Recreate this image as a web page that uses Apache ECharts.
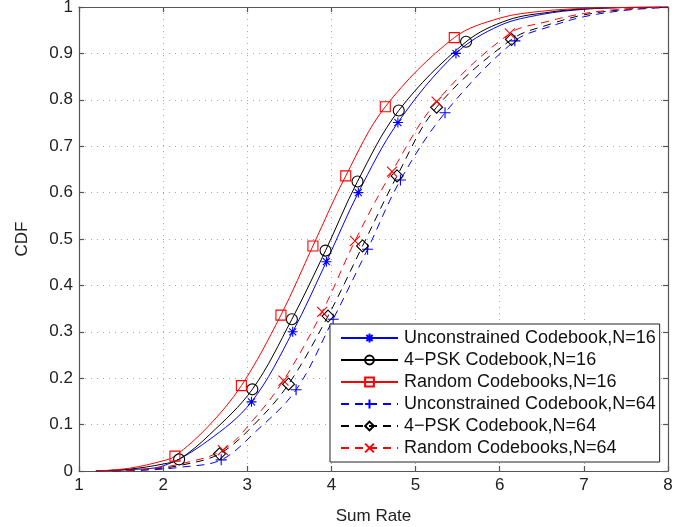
<!DOCTYPE html>
<html>
<head>
<meta charset="utf-8">
<script src="https://cdn.jsdelivr.net/npm/echarts@6/dist/echarts.min.js"></script>
<style>
html,body{margin:0;padding:0;background:#fff;}
#chart{width:686px;height:527px;}
</style>
</head>
<body>
<div id="chart"></div>
<script>
// ---- Data ----
const seriesNames = [
  'Unconstrained Codebook,N=16',
  '4\u2212PSK Codebook,N=16',
  'Random Codebooks,N=16',
  'Unconstrained Codebook,N=64',
  '4\u2212PSK Codebook,N=64',
  'Random Codebooks,N=64'
];
const xTicks = [1, 2, 3, 4, 5, 6, 7, 8];
const yTicks = [0, 0.1, 0.2, 0.3, 0.4, 0.5, 0.6, 0.7, 0.8, 0.9, 1];

const unc16X = [1.2, 1.6, 2.0, 2.53, 3.05, 3.54, 3.94, 4.32, 4.79, 5.48, 6.0, 6.5, 7.0, 7.5, 8.0];
const unc16Y = [0, 0.003, 0.011, 0.065, 0.149, 0.300, 0.451, 0.600, 0.751, 0.900, 0.960, 0.984, 0.995, 0.999, 1];
const unc16Marks = [4, 5, 6, 7, 8, 9];

const psk16X = [1.2, 1.6, 2.0, 2.19, 2.55, 3.06, 3.53, 3.93, 4.31, 4.80, 5.60, 6.1, 6.6, 7.0, 7.5, 8.0];
const psk16Y = [0, 0.004, 0.015, 0.025, 0.078, 0.176, 0.327, 0.475, 0.624, 0.777, 0.925, 0.972, 0.989, 0.996, 0.999, 1];
const psk16Marks = [3, 5, 6, 7, 8, 9, 10];

const rnd16X = [1.2, 1.6, 2.0, 2.14, 2.53, 2.93, 3.40, 3.78, 4.17, 4.64, 5.46, 6.0, 6.5, 7.0, 7.5, 8.0];
const rnd16Y = [0, 0.006, 0.022, 0.032, 0.095, 0.184, 0.336, 0.485, 0.636, 0.785, 0.934, 0.976, 0.991, 0.997, 0.999, 1];
const rnd16Marks = [3, 5, 6, 7, 8, 9, 10];

const unc64X = [1.4, 1.8, 2.2, 2.69, 3.1, 3.58, 4.02, 4.43, 4.82, 5.35, 6.18, 6.6, 7.0, 7.5, 8.0];
const unc64Y = [0, 0.002, 0.008, 0.024, 0.085, 0.175, 0.327, 0.478, 0.627, 0.772, 0.927, 0.958, 0.979, 0.993, 0.999];
const unc64Marks = [3, 5, 6, 7, 8, 9, 10];

const psk64X = [1.4, 1.8, 2.2, 2.67, 3.08, 3.49, 3.96, 4.37, 4.78, 5.25, 6.14, 6.6, 7.0, 7.5, 8.0];
const psk64Y = [0, 0.003, 0.012, 0.037, 0.100, 0.187, 0.334, 0.485, 0.636, 0.784, 0.930, 0.963, 0.983, 0.995, 1];
const psk64Marks = [3, 5, 6, 7, 8, 9, 10];

const rnd64X = [1.4, 1.8, 2.2, 2.71, 3.07, 3.43, 3.89, 4.28, 4.72, 5.25, 6.12, 6.55, 7.0, 7.5, 8.0];
const rnd64Y = [0, 0.004, 0.015, 0.045, 0.110, 0.195, 0.343, 0.496, 0.645, 0.796, 0.943, 0.968, 0.986, 0.996, 1];
const rnd64Marks = [3, 5, 6, 7, 8, 9, 10];

// ---- Styling ----
const FONT = "'Liberation Sans', Arial, Helvetica, sans-serif";
const BLUE = '#0000ff', BLACK = '#000000', RED = '#ff0000';
const SYM_STAR = 'path://M5,0L5,10M0,5L10,5M1.5,1.5L8.5,8.5M8.5,1.5L1.5,8.5';
const SYM_PLUS = 'path://M5,0L5,10M0,5L10,5';
const SYM_X = 'path://M0,0L10,10M10,0L0,10';

function build(xs, ys, marks) {
  return xs.map((x, i) => marks.indexOf(i) >= 0 ? { value: [x, ys[i]] } : { value: [x, ys[i]], symbol: 'none' });
}
function mkSeries(name, xs, ys, marks, color, symbol, size, dashed) {
  return {
    name: name, type: 'line', data: build(xs, ys, marks),
    smooth: 0.35,
    symbol: symbol, symbolSize: size, showAllSymbol: true,
    color: color,
    lineStyle: { color: color, width: 1, type: dashed ? [8, 6] : 'solid' },
    itemStyle: { color: 'rgba(255,255,255,0)', borderColor: color, borderWidth: 1.1 },
    emphasis: { disabled: true },
    animation: false, z: 3
  };
}

const chart = echarts.init(document.getElementById('chart'), null, { renderer: 'canvas' });
const axisLineStyle = { color: '#555', width: 1.2 };
const option = {
  backgroundColor: '#fff',
  animation: false,
  textStyle: { fontFamily: FONT },
  grid: { left: 79, right: 18, top: 7, bottom: 56, containLabel: false, outerBoundsMode: 'none' },
  legend: {
    orient: 'vertical', left: 330, top: 324,
    backgroundColor: '#fff', borderColor: '#222', borderWidth: 1,
    padding: [5, 4, 5, 10],
    itemWidth: 57, itemHeight: 11, itemGap: 4,
    textStyle: { fontFamily: FONT, fontSize: 18, color: '#111', lineHeight: 18, padding: [0, 0, 0, 1] },
    data: seriesNames
  },
  xAxis: [{
    type: 'value', min: 1, max: 8, interval: 1, position: 'bottom',
    name: 'Sum Rate', nameLocation: 'middle', nameGap: 37,
    nameTextStyle: { fontFamily: FONT, fontSize: 17, color: '#222' },
    axisLine: { show: true, onZero: false, lineStyle: axisLineStyle },
    axisTick: { show: true, inside: true, length: 5, lineStyle: axisLineStyle },
    axisLabel: { fontFamily: FONT, fontSize: 17, color: '#222', margin: 6 },
    splitLine: { show: true, lineStyle: { color: '#aaa', type: [1, 5], width: 1 } }
  }, {
    type: 'value', min: 1, max: 8, interval: 1, position: 'top',
    axisLine: { show: true, onZero: false, lineStyle: axisLineStyle },
    axisTick: { show: true, inside: true, length: 5, lineStyle: axisLineStyle },
    axisLabel: { show: false }, splitLine: { show: false }
  }],
  yAxis: [{
    type: 'value', min: 0, max: 1, interval: 0.1, position: 'left',
    name: 'CDF', nameLocation: 'middle', nameGap: 48, nameRotate: 90,
    nameTextStyle: { fontFamily: FONT, fontSize: 17, color: '#222' },
    axisLine: { show: true, onZero: false, lineStyle: axisLineStyle },
    axisTick: { show: true, inside: true, length: 5, lineStyle: axisLineStyle },
    axisLabel: { fontFamily: FONT, fontSize: 17, color: '#222', margin: 6,
      formatter: v => String(+(+v).toFixed(1)) },
    splitLine: { show: true, lineStyle: { color: '#aaa', type: [1, 5], width: 1 } }
  }, {
    type: 'value', min: 0, max: 1, interval: 0.1, position: 'right',
    axisLine: { show: true, onZero: false, lineStyle: axisLineStyle },
    axisTick: { show: true, inside: true, length: 5, lineStyle: axisLineStyle },
    axisLabel: { show: false }, splitLine: { show: false }
  }],
  series: [
    mkSeries(seriesNames[0], unc16X, unc16Y, unc16Marks, BLUE, SYM_STAR, 10, false),
    mkSeries(seriesNames[1], psk16X, psk16Y, psk16Marks, BLACK, 'circle', 11, false),
    mkSeries(seriesNames[2], rnd16X, rnd16Y, rnd16Marks, RED, 'rect', 10, false),
    mkSeries(seriesNames[3], unc64X, unc64Y, unc64Marks, BLUE, SYM_PLUS, 11, true),
    mkSeries(seriesNames[4], psk64X, psk64Y, psk64Marks, BLACK, 'diamond', 12, true),
    mkSeries(seriesNames[5], rnd64X, rnd64Y, rnd64Marks, RED, SYM_X, 10, true)
  ]
};
chart.setOption(option);
</script>
</body>
</html>
